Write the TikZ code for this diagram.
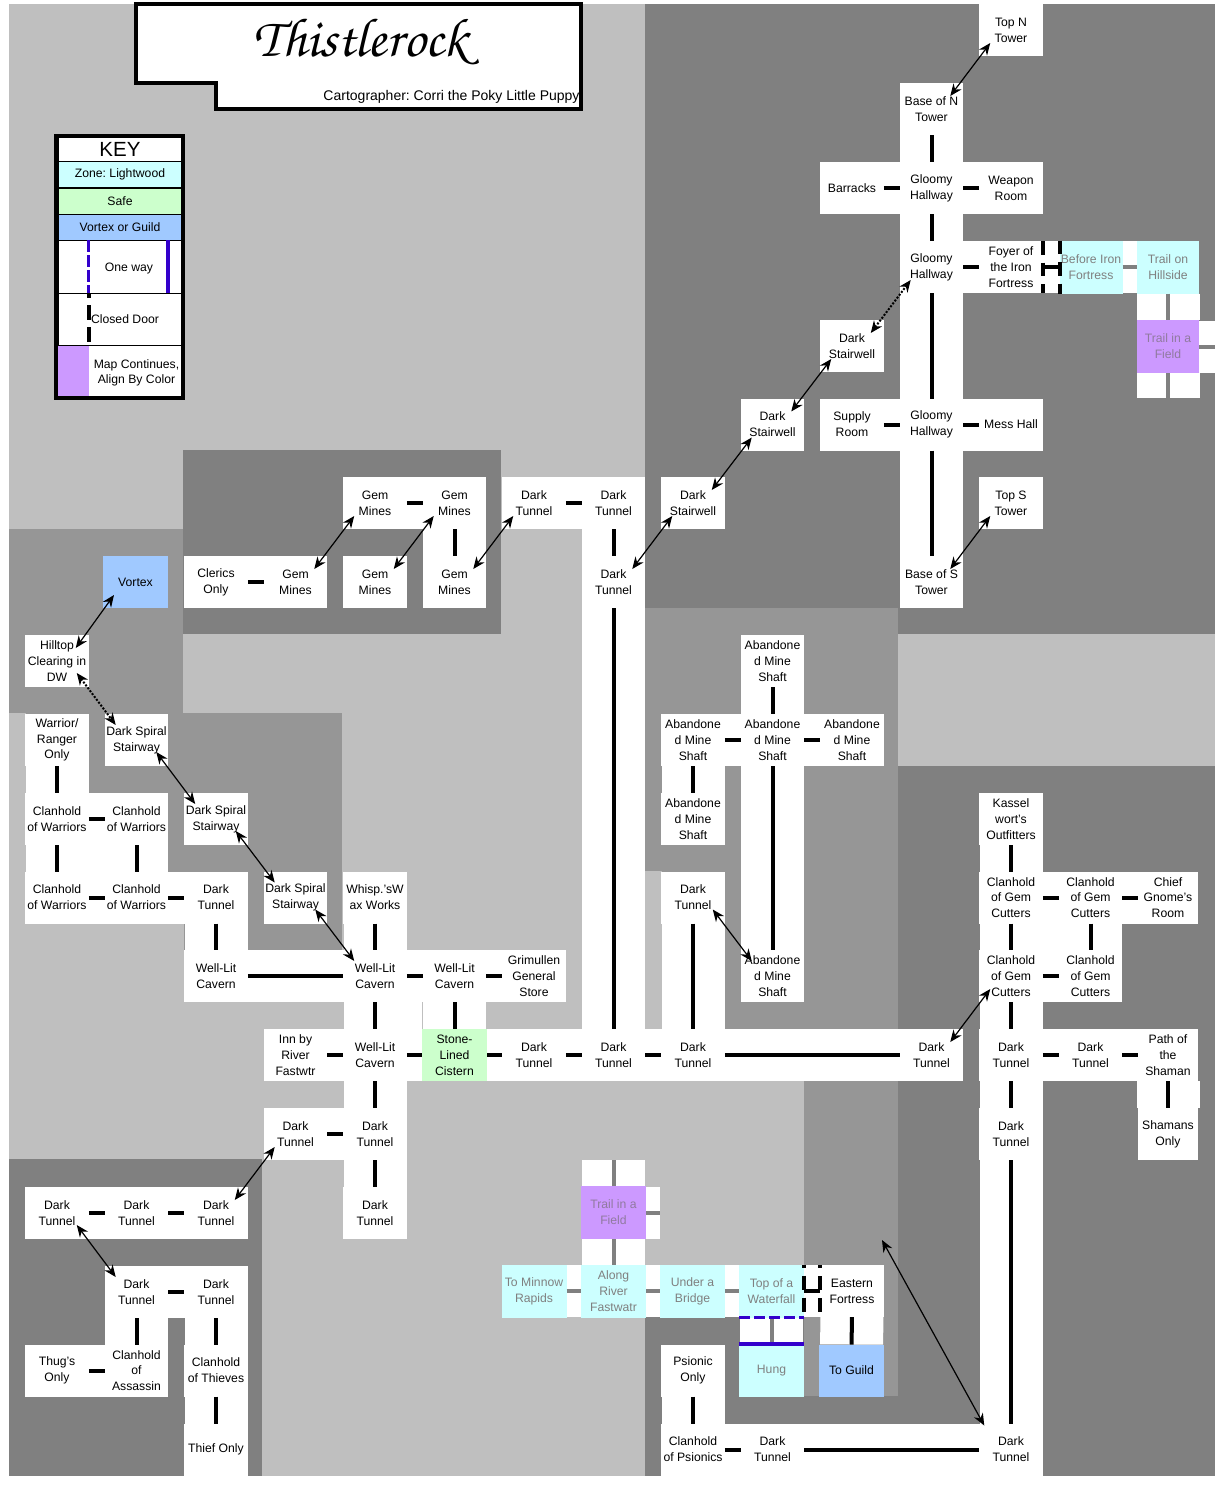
\documentclass[tikz,border=0pt]{standalone}
\usepackage{fontspec}
\setmainfont{Liberation Sans}
\usetikzlibrary{arrows.meta,calc}
\definecolor{lightbg}{HTML}{BFBFBF}
\definecolor{midbg}{HTML}{969696}
\definecolor{darkbg}{HTML}{808080}
\definecolor{zonecol}{HTML}{CCFFFF}
\definecolor{safecol}{HTML}{CCFFCC}
\definecolor{guildcol}{HTML}{A0C9FF}
\definecolor{fieldcol}{HTML}{CC99FF}
\definecolor{fieldtext}{HTML}{907A9F}
\definecolor{onewaycol}{HTML}{3300CC}
\newcommand{\roomfont}{\fontsize{12.2}{15.8}\selectfont\frenchspacing}
\tikzset{
  room/.style={fill=white,minimum width=63.5pt,minimum height=52pt,inner sep=0pt,
    outer sep=0pt,align=center,font=\roomfont},
  zone/.style={room,fill=zonecol,minimum width=65pt,minimum height=53pt,text=darkbg},
  field/.style={room,fill=fieldcol,minimum width=65pt,minimum height=53pt,text=fieldtext},
  safe/.style={room,fill=safecol,minimum width=65pt},
  guild/.style={room,fill=guildcol,minimum width=65pt},
  hdoor/.style={line width=4pt,preaction={draw=white,line width=52pt}},
  vdoor/.style={line width=4pt,preaction={draw=white,line width=63pt}},
  shut/.style={line width=4pt,dash pattern=on 13.5pt off 8pt},
  stair/.style={<->,>={Stealth[length=12pt,width=10pt]},line width=1.2pt},
  dotstair/.style={stair,line width=2pt,dash pattern=on 2pt off 1.6pt},
  keyrow/.style={draw=black,line width=.8pt,minimum width=123pt,inner sep=0pt,
    outer sep=0pt,font=\roomfont},
  keytext/.style={inner sep=0pt,align=center,font=\roomfont},
}

\begin{document}
\begin{tikzpicture}[x=1pt,y=-1pt]
  \useasboundingbox (0,0) rectangle (1229,1491);
  % the shaded levels behind the rooms
  \fill[lightbg] (9,4) rectangle (1215,1476);
  \fill[darkbg] (645,4) rectangle (1215,608);
  \fill[darkbg] (898,608) rectangle (1215,634);
  \fill[darkbg] (898,766) rectangle (1215,1476);
  \fill[midbg] (645,608) rectangle (898,1396);
  \fill[lightbg] (645,871) rectangle (662,1029);
  \fill[lightbg] (645,1081) rectangle (804,1317);
  \fill[darkbg] (645,1317) rectangle (804,1476);
  \fill[darkbg] (804,1396) rectangle (1215,1476);
  \fill[midbg] (9,529) rectangle (183,713);
  \fill[darkbg] (183,450) rectangle (501,634);
  \fill[midbg] (26,713) rectangle (342,923);
  \fill[midbg] (184,713) rectangle (342,950);
  \fill[darkbg] (9,1159) rectangle (262,1476);

  % title
  \draw[line width=4pt,fill=white] (136,4) -- (581,4) -- (581,109) -- (215.5,109)
    -- (215.5,83) -- (136,83) -- cycle;
  \node[inner sep=0pt] (title) at (360.5,42)
    {\fontsize{55}{55}\usefont{OT1}{pzc}{mb}{it}Thistlerock};
  \node[inner sep=0pt,font=\fontsize{14}{16}\selectfont\frenchspacing] (carto) at (451.5,97)
    {Cartographer: Corri the Poky Little Puppy};

  % key
  \node[keyrow,fill=white,minimum height=25pt,font=\fontsize{20.5}{22}\selectfont] (keyHead) at (120,149) {KEY};
  \node[keyrow,fill=zonecol,minimum height=26.5pt] (keyZone) at (120,174.5) {Zone: Lightwood};
  \node[keyrow,fill=safecol,minimum height=26pt] (keySafe) at (120,201) {Safe};
  \node[keyrow,fill=guildcol,minimum height=26.5pt] (keyGuild) at (120,227.5) {Vortex or Guild};
  \node[keyrow,fill=white,minimum height=52.5pt] (keyWay) at (120,267) {};
  \node[keyrow,fill=white,minimum height=52pt] (keyDoor) at (120,319) {};
  \node[keyrow,fill=white,minimum height=53pt] (keyMap) at (120,371.5) {};
  \fill[fieldcol] (58,345.5) rectangle (89,397);
  \draw[onewaycol,line width=3pt,dash pattern=on 12pt off 3pt] (88.5,240) -- (88.5,293);
  \draw[onewaycol,line width=4pt] (168,240) -- (168,293);
  \draw[line width=4pt,dash pattern=on 15pt off 7pt,dash phase=10pt] (89,293) -- (89,345);
  \node[keytext] (keyWayText) at (129,269) {One way};
  \node[keytext] (keyDoorText) at (125,319) {Closed Door};
  \node[keytext,font=\fontsize{12.2}{15}\selectfont] (keyMapText) at (136.5,373) {Map Continues,\\Align By Color};
  \draw[line width=4pt] (56,136) rectangle (183,398);

  % rooms, top to bottom
  \node[room] (topN) at (1011,30) {Top N\\Tower};
  \node[room] (baseN) at (931.5,109) {Base of N\\Tower};
  \node[room] (barracks) at (852,188) {Barracks};
  \node[room] (weapon) at (1011,188) {Weapon\\Room};
  \node[room] (foyer) at (1011,267) {Foyer of\\the Iron\\Fortress};
  \node[zone,minimum width=63pt] (beforeIron) at (1091,267) {Before Iron\\Fortress};
  \node[zone,minimum width=62pt] (hillside) at (1168,267) {Trail on\\Hillside};
  \node[field,minimum width=62pt] (fieldA) at (1168,346.5) {Trail in a\\Field};
  \foreach \n/\x/\y in {gloomyA/931.5/188,gloomyB/931.5/267,gloomyC/931.5/424.5}{
    \node[room] (\n) at (\x,\y) {Gloomy\\Hallway}; }
  \foreach \n/\x/\y in {stairA/693/503,stairB/772.5/424.5,stairC/852/346}{
    \node[room] (\n) at (\x,\y) {Dark\\Stairwell}; }
  \node[room] (supply) at (852,424.5) {Supply\\Room};
  \node[room] (mess) at (1011,424.5) {Mess Hall};
  \node[room] (topS) at (1011,503) {Top S\\Tower};
  \node[room] (baseS) at (931.5,582) {Base of S\\Tower};
  \foreach \n/\x/\y in {gemA/295.5/582,gemB/375/503,gemC/454.5/503,gemD/375/582,gemE/454.5/582}{
    \node[room] (\n) at (\x,\y) {Gem\\Mines}; }
  \node[room] (clerics) at (216,582) {Clerics\\Only};
  \node[guild] (vortex) at (135.5,582) {Vortex};
  \node[room] (hilltop) at (57,661) {Hilltop\\Clearing in\\DW};
  \node[room] (warrior) at (57,740) {Warrior/\\Ranger\\Only};
  \foreach \n/\x/\y in {spiralA/136.5/740,spiralB/216/819,spiralC/295.5/897.5}{
    \node[room] (\n) at (\x,\y) {Dark Spiral\\Stairway}; }
  \foreach \n/\x/\y in {clanA/57/819,clanB/136.5/819,clanC/57/897.5,clanD/136.5/897.5}{
    \node[room] (\n) at (\x,\y) {Clanhold\\of Warriors}; }
  \foreach \n/\x/\y in {shaftA/772.5/661,shaftB/693/740,shaftC/772.5/740,shaftD/852/740,
                        shaftE/693/819,shaftF/772.5/976}{
    \node[room] (\n) at (\x,\y) {Abandone\\d Mine\\Shaft}; }
  \node[room] (kassel) at (1011,819) {Kassel\\wort's\\Outfitters};
  \foreach \n/\x/\y in {gemcutA/1011/897.5,gemcutB/1090.5/897.5,gemcutC/1011/976,gemcutD/1090.5/976}{
    \node[room] (\n) at (\x,\y) {Clanhold\\of Gem\\Cutters}; }
  \node[room,minimum width=60pt] (chief) at (1168,897.5) {Chief\\Gnome's\\Room};
  \node[room] (whisp) at (375,897.5) {Whisp.'sW\\ax Works};
  \foreach \n/\x/\y in {cavernA/216/976,cavernB/375/976,cavernC/454.5/976,cavernD/375/1055}{
    \node[room] (\n) at (\x,\y) {Well-Lit\\Cavern}; }
  \node[room] (store) at (534,976) {Grimullen\\General\\Store};
  \node[room] (inn) at (295.5,1055) {Inn by\\River\\Fastwtr};
  \node[safe] (cistern) at (454.5,1055) {Stone-\\Lined\\Cistern};
  \node[room,minimum width=60pt] (shaman) at (1168,1055) {Path of\\the\\Shaman};
  \node[room,minimum width=60pt] (shamans) at (1168,1134) {Shamans\\Only};
  % all of the plain tunnels
  \foreach \n/\x/\y in {tunA/534/503,tunB/613.5/503,tunC/613.5/582,tunD/216/897.5,tunE/693/897.5,
                        tunF/534/1055,tunG/613.5/1055,tunH/693/1055,tunI/931.5/1055,tunJ/1011/1055,
                        tunK/1090.5/1055,tunL/295.5/1134,tunM/375/1134,tunN/1011/1134,
                        tunO/57/1213,tunP/136.5/1213,tunQ/216/1213,tunR/375/1213,
                        tunS/136.5/1292,tunT/216/1292,tunU/772.5/1449.5,tunV/1011/1449.5}{
    \node[room] (\n) at (\x,\y) {Dark\\Tunnel}; }
  \node[field] (fieldB) at (613.5,1212.5) {Trail in a\\Field};
  \node[zone] (minnow) at (534,1291) {To Minnow\\Rapids};
  \node[zone] (river) at (613.5,1291) {Along\\River\\Fastwatr};
  \node[zone] (bridge) at (692.5,1291) {Under a\\Bridge};
  \node[zone] (waterfall) at (771.5,1291) {Top of a\\Waterfall};
  \node[room] (eastern) at (852,1291) {Eastern\\Fortress};
  \node[room] (thug) at (57,1370.5) {Thug's\\Only};
  \node[room] (assassin) at (136.5,1370.5) {Clanhold\\of\\Assassin};
  \node[room] (thieves) at (216,1370.5) {Clanhold\\of Thieves};
  \node[room] (psionic) at (693,1370.5) {Psionic\\Only};
  \node[zone] (hung) at (771.5,1370.5) {Hung};
  \node[guild] (toguild) at (851.5,1370.5) {To Guild};
  \node[room] (thief) at (216,1449.5) {Thief Only};
  \node[room] (psionics) at (693,1449.5) {Clanhold\\of Psionics};

  % open corners where four rooms meet
  \fill[white] (clanA.south east) rectangle (clanD.north west);
  \fill[white] (gemcutA.south east) rectangle (gemcutD.north west);
  \fill[white] (cavernB.south east) rectangle (cistern.north west);

  % free ends of the stubs
  \coordinate (fieldAright) at (1215,346.5);
  \coordinate (fieldAdown) at (1168,398);
  \coordinate (fieldBup) at (613.5,1160);
  \coordinate (fieldBright) at (660,1212.5);
  \coordinate (longEnd) at (882,1240);

  % doors
  \foreach \a/\b in {barracks/gloomyA,gloomyA/weapon,gloomyB/foyer,foyer/beforeIron,supply/gloomyC,
                     gloomyC/mess,gemB/gemC,clerics/gemA,tunA/tunB,shaftB/shaftC,shaftC/shaftD,
                     clanA/clanB,clanC/clanD,clanD/tunD,cavernA/cavernB,cavernB/cavernC,cavernC/store,
                     inn/cavernD,cavernD/cistern,cistern/tunF,tunF/tunG,tunG/tunH,tunH/tunI,
                     gemcutA/gemcutB,gemcutB/chief,gemcutC/gemcutD,tunJ/tunK,tunK/shaman,tunL/tunM,
                     tunO/tunP,tunP/tunQ,tunS/tunT,thug/assassin,psionics/tunU,tunU/tunV,waterfall/eastern}{
    \draw[hdoor] (\a) -- (\b); }
  \foreach \a/\b in {baseN/gloomyA,gloomyA/gloomyB,gloomyB/gloomyC,gloomyC/baseS,gemC/gemE,
                     tunB/tunC,tunC/tunG,shaftA/shaftC,shaftB/shaftE,shaftC/shaftF,warrior/clanA,
                     clanA/clanC,clanB/clanD,tunD/cavernA,whisp/cavernB,cavernB/cavernD,cavernC/cistern,
                     tunE/tunH,cavernD/tunM,tunM/tunR,kassel/gemcutA,gemcutA/gemcutC,gemcutB/gemcutD,
                     gemcutC/tunJ,shaman/shamans,tunJ/tunN,tunN/tunV,tunS/assassin,tunT/thieves,
                     thieves/thief,psionic/psionics,eastern/toguild}{
    \draw[vdoor] (\a) -- (\b); }
  \foreach \a/\b in {beforeIron/hillside,fieldA/fieldAright,minnow/river,river/bridge,bridge/waterfall,
                     fieldB/fieldBright}{
    \draw[hdoor,darkbg] (\a) -- (\b); }
  \foreach \a/\b in {hillside/fieldA,fieldA/fieldAdown,fieldB/fieldBup,fieldB/river,waterfall/hung}{
    \draw[vdoor,darkbg] (\a) -- (\b); }

  % closed doors and one way doors on the room edges
  \draw[shut] (foyer.north east) -- (foyer.south east);
  \draw[shut] (beforeIron.north west) -- (beforeIron.south west);
  \draw[shut,dash pattern=on 14pt off 8pt,dash phase=11pt] (waterfall.north east) -- (waterfall.south east);
  \draw[shut,dash pattern=on 14pt off 8pt,dash phase=11pt] (eastern.north west) -- (eastern.south west);
  \draw[onewaycol,line width=3pt,dash pattern=on 11pt off 4pt] (waterfall.south west) -- (waterfall.south east);
  \draw[onewaycol,line width=4pt] (hung.north west) -- (hung.north east);

  % stairs, the low room first
  \foreach \a/\b in {baseN/topN,stairB/stairC,stairA/stairB,tunC/stairA,gemE/tunA,gemD/gemC,gemA/gemB,
                     baseS/topS,hilltop/vortex,tunQ/tunL,tunI/gemcutC}{
    \draw[stair] ($(\a.north east)+(-13,13)$) -- ($(\b.south west)+(11,-13)$); }
  \draw[dotstair] ($(stairC.north east)+(-13,13)$) -- ($(gloomyB.south west)+(11,-13)$);
  % stairs that run the other way
  \foreach \a/\b in {spiralA/spiralB,spiralB/spiralC,spiralC/cavernB,tunO/tunS,tunE/shaftF}{
    \draw[stair] ($(\a.south east)+(-12,-14)$) -- ($(\b.north west)+(11,11)$); }
  \draw[dotstair] ($(hilltop.south east)+(-12,-14)$) -- ($(spiralA.north west)+(11,11)$);
  \draw[stair] ($(tunV.north west)+(5,2)$) -- (longEnd);
\end{tikzpicture}
\end{document}
